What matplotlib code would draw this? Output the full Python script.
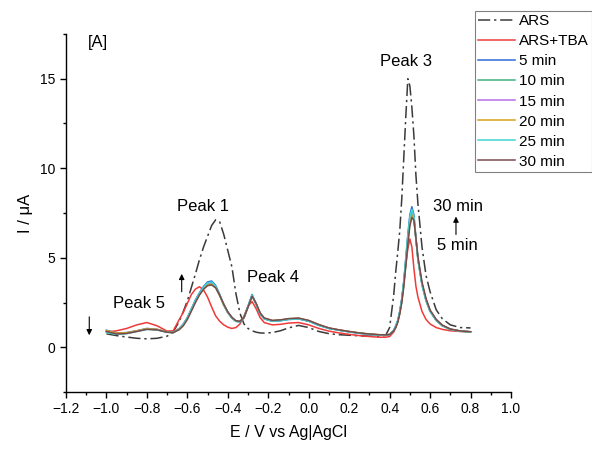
import matplotlib
matplotlib.use("Agg")
import matplotlib.pyplot as plt
from matplotlib.ticker import MultipleLocator

plt.rcParams['font.family'] = ['Liberation Sans', 'DejaVu Sans']

# potential grid (V vs Ag|AgCl)
E = [-1.00, -0.95, -0.90, -0.85, -0.80, -0.75, -0.70, -0.67,
     -0.64, -0.62, -0.60, -0.58, -0.56, -0.54, -0.52, -0.50, -0.48, -0.46, -0.44, -0.42, -0.40,
     -0.38, -0.36, -0.34, -0.32, -0.30, -0.28, -0.26, -0.24, -0.22,
     -0.18, -0.14, -0.10, -0.05, 0.00, 0.05, 0.10, 0.15, 0.20, 0.25, 0.30, 0.35, 0.38, 0.40,
     0.42, 0.43, 0.44, 0.45, 0.46, 0.47, 0.48, 0.49, 0.50, 0.51, 0.52, 0.53, 0.54,
     0.56, 0.58, 0.60, 0.63, 0.66, 0.70, 0.75, 0.80]

ars = [0.75, 0.65, 0.57, 0.50, 0.47, 0.50, 0.62, 0.85,
       1.45, 2.00, 2.60, 3.35, 4.10, 4.90, 5.60, 6.20, 6.80, 7.12, 7.00, 6.30, 5.40,
       4.50, 3.00, 1.90, 1.30, 1.05, 0.92, 0.84, 0.80, 0.79,
       0.82, 0.92, 1.08, 1.22, 1.10, 0.88, 0.76, 0.70, 0.67, 0.64, 0.62, 0.62, 0.66, 1.10,
       2.90, 4.20, 5.30, 6.50, 8.30, 10.6, 12.9, 15.0, 14.6, 13.4, 11.8, 9.60, 8.00,
       5.60, 4.00, 3.10, 2.10, 1.60, 1.25, 1.10, 1.08]

ars_tba = [0.85, 0.92, 1.05, 1.25, 1.38, 1.20, 0.90, 0.92,
           1.55, 1.95, 2.45, 2.95, 3.25, 3.38, 3.20, 2.80, 2.25, 1.75, 1.45, 1.25, 1.12,
           1.05, 1.10, 1.30, 1.75, 2.30, 2.55, 2.15, 1.65, 1.38,
           1.25, 1.28, 1.35, 1.38, 1.25, 1.05, 0.90, 0.80, 0.72, 0.65, 0.60, 0.56, 0.56, 0.60,
           0.85, 1.10, 1.45, 1.95, 2.70, 3.60, 4.60, 5.50, 6.05, 5.60, 4.40, 3.40, 2.80,
           2.00, 1.55, 1.30, 1.10, 1.00, 0.92, 0.88, 0.86]

t5 = [0.95, 0.80, 0.82, 0.92, 1.05, 1.00, 0.85, 0.82,
      1.05, 1.30, 1.65, 2.15, 2.65, 3.05, 3.40, 3.65, 3.70, 3.45, 2.95, 2.40, 1.95,
      1.65, 1.45, 1.42, 1.65, 2.30, 2.95, 2.40, 1.85, 1.58,
      1.45, 1.48, 1.55, 1.58, 1.45, 1.22, 1.05, 0.95, 0.86, 0.78, 0.72, 0.68, 0.68, 0.72,
      0.95, 1.20, 1.50, 2.00, 2.70, 3.70, 5.00, 6.30, 7.40, 7.85, 7.40, 6.10, 4.90,
      3.50, 2.60, 2.00, 1.50, 1.20, 1.00, 0.90, 0.86]

t10 = [0.90, 0.75, 0.78, 0.90, 1.02, 0.98, 0.84, 0.82,
       1.04, 1.28, 1.65, 2.12, 2.60, 3.00, 3.32, 3.56, 3.60, 3.38, 2.90, 2.36, 1.93,
       1.63, 1.45, 1.43, 1.66, 2.28, 2.90, 2.42, 1.88, 1.60,
       1.47, 1.50, 1.57, 1.60, 1.47, 1.24, 1.06, 0.96, 0.87, 0.79, 0.73, 0.69, 0.68, 0.71,
       0.92, 1.15, 1.45, 1.95, 2.62, 3.60, 4.85, 6.10, 7.15, 7.60, 7.25, 6.05, 4.90,
       3.50, 2.62, 2.02, 1.52, 1.21, 1.00, 0.90, 0.86]

t15 = [0.92, 0.78, 0.80, 0.91, 1.03, 0.99, 0.85, 0.83,
       1.03, 1.27, 1.63, 2.10, 2.58, 2.98, 3.30, 3.52, 3.56, 3.35, 2.88, 2.35, 1.93,
       1.64, 1.46, 1.44, 1.66, 2.26, 2.88, 2.42, 1.88, 1.61,
       1.48, 1.51, 1.58, 1.61, 1.48, 1.25, 1.07, 0.96, 0.87, 0.79, 0.73, 0.69, 0.68, 0.71,
       0.92, 1.14, 1.44, 1.93, 2.60, 3.55, 4.78, 6.00, 7.05, 7.50, 7.20, 6.05, 4.92,
       3.52, 2.64, 2.04, 1.53, 1.22, 1.01, 0.90, 0.86]

t20 = [0.93, 0.79, 0.81, 0.92, 1.04, 1.00, 0.86, 0.83,
       1.02, 1.26, 1.62, 2.08, 2.55, 2.95, 3.27, 3.48, 3.52, 3.33, 2.87, 2.35, 1.94,
       1.65, 1.47, 1.45, 1.67, 2.25, 2.86, 2.43, 1.89, 1.62,
       1.49, 1.52, 1.59, 1.62, 1.49, 1.26, 1.07, 0.97, 0.88, 0.80, 0.74, 0.70, 0.69, 0.71,
       0.91, 1.12, 1.42, 1.90, 2.55, 3.48, 4.70, 5.92, 6.95, 7.40, 7.15, 6.05, 4.95,
       3.55, 2.66, 2.05, 1.54, 1.22, 1.01, 0.90, 0.86]

t25 = [0.82, 0.72, 0.76, 0.88, 1.00, 0.97, 0.84, 0.82,
       1.01, 1.27, 1.64, 2.13, 2.62, 3.02, 3.36, 3.60, 3.64, 3.40, 2.92, 2.38, 1.94,
       1.64, 1.45, 1.42, 1.65, 2.28, 2.92, 2.42, 1.87, 1.59,
       1.46, 1.49, 1.56, 1.59, 1.46, 1.23, 1.05, 0.95, 0.86, 0.78, 0.72, 0.68, 0.68, 0.71,
       0.93, 1.17, 1.47, 1.97, 2.66, 3.65, 4.92, 6.20, 7.28, 7.70, 7.30, 6.05, 4.88,
       3.48, 2.60, 2.01, 1.51, 1.21, 1.00, 0.90, 0.86]

t30 = [0.88, 0.74, 0.77, 0.88, 1.00, 0.97, 0.84, 0.82,
       0.98, 1.20, 1.55, 2.02, 2.50, 2.92, 3.24, 3.44, 3.48, 3.32, 2.90, 2.40, 1.98,
       1.68, 1.48, 1.45, 1.66, 2.24, 2.85, 2.45, 1.92, 1.64,
       1.50, 1.53, 1.60, 1.63, 1.50, 1.27, 1.08, 0.97, 0.88, 0.80, 0.74, 0.70, 0.69, 0.71,
       0.90, 1.10, 1.38, 1.85, 2.48, 3.38, 4.55, 5.75, 6.78, 7.25, 7.10, 6.10, 5.05,
       3.65, 2.72, 2.08, 1.56, 1.24, 1.02, 0.91, 0.87]

labels = ["ARS+TBA", "5 min", "10 min", "15 min", "20 min", "25 min", "30 min"]
colors = ["#f03a3a", "#2f6bd8", "#3fb27a", "#b66ee8", "#d4a017", "#3fd6cf", "#7a4a4a"]
series = [ars_tba, t5, t10, t15, t20, t25, t30]

fig = plt.figure(figsize=(5.92, 4.50), dpi=100)
ax = fig.add_axes([66 / 592, 1 - 392 / 450, (511 - 66) / 592, (392 - 34) / 450])

ax.plot(E, ars, color="#3a3a3a", lw=1.1, dashes=(8, 2.5, 1.5, 2.5), label="ARS")
for y, c, lab in zip(series, colors, labels):
    ax.plot(E, y, color=c, lw=1.1, label=lab)

ax.set_xlim(-1.2, 1.0)
ax.set_ylim(-2.5, 17.5)
ax.xaxis.set_major_locator(MultipleLocator(0.2))
ax.xaxis.set_minor_locator(MultipleLocator(0.1))
ax.yaxis.set_major_locator(MultipleLocator(5))
ax.yaxis.set_minor_locator(MultipleLocator(2.5))
ax.xaxis.set_major_formatter(plt.FuncFormatter(lambda v, p: f"{v:.1f}".replace("-", "\u2212")))
ax.spines["top"].set_visible(False)
ax.spines["right"].set_visible(False)
for s in ("left", "bottom"):
    ax.spines[s].set_linewidth(1.0)
ax.tick_params(which="major", direction="out", length=4, width=1.0, labelsize=10)
ax.tick_params(which="minor", direction="out", length=2.5, width=1.0)

ax.set_xlabel("E / V vs Ag|AgCl", fontsize=11.5, labelpad=6)
ax.set_ylabel("I / \u03bcA", fontsize=12, labelpad=5)

ax.text(-1.09, 17.0, "[A]", fontsize=12, ha="left", va="center")
ax.text(0.48, 15.95, "Peak 3", fontsize=12, ha="center", va="center")
ax.text(-0.525, 7.88, "Peak 1", fontsize=12, ha="center", va="center")
ax.text(-0.175, 3.9, "Peak 4", fontsize=12, ha="center", va="center")
ax.text(-0.839, 2.45, "Peak 5", fontsize=12, ha="center", va="center")
ax.text(0.737, 7.88, "30 min", fontsize=12, ha="center", va="center")
ax.text(0.735, 5.67, "5 min", fontsize=12, ha="center", va="center")

arrow = dict(arrowstyle="-|>", lw=0.8, color="black", mutation_scale=8, shrinkA=0, shrinkB=0)
ax.annotate("", xy=(0.728, 7.3), xytext=(0.728, 6.3), arrowprops=arrow)
ax.annotate("", xy=(-0.628, 4.1), xytext=(-0.628, 3.1), arrowprops=arrow)
ax.annotate("", xy=(-1.085, 0.67), xytext=(-1.085, 1.7), arrowprops=arrow)

leg = ax.legend(loc="upper left", bbox_to_anchor=(475 / 592, 1 - 11 / 450),
                bbox_transform=fig.transFigure, fontsize=11, frameon=True,
                fancybox=False, edgecolor="#808080", framealpha=1,
                borderpad=0.2, labelspacing=0.4, handlelength=2.4,
                handletextpad=0.3, borderaxespad=0)
leg.get_frame().set_linewidth(0.8)

fig.savefig("out.png", dpi=100)
